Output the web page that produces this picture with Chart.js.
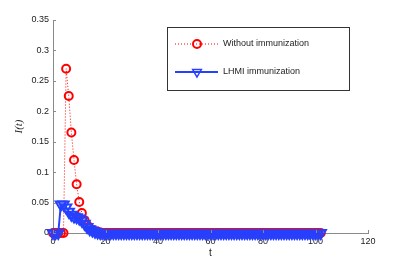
<!DOCTYPE html>
<html>
<head>
<meta charset="utf-8">
<script src="https://cdn.jsdelivr.net/npm/chart.js@4/dist/chart.umd.min.js"></script>
<style>
  html, body { margin: 0; padding: 0; background: #fff; }
  canvas { display: block; }
</style>
</head>
<body>
<canvas id="chart" width="407" height="263"></canvas>
<script>
// time steps
const tValues = [
  0, 1, 2, 3, 4, 5, 6, 7, 8, 9, 10, 11, 12, 13, 14, 15, 16, 17, 18, 19,
  20, 21, 22, 23, 24, 25, 26, 27, 28, 29, 30, 31, 32, 33, 34, 35, 36, 37, 38, 39,
  40, 41, 42, 43, 44, 45, 46, 47, 48, 49, 50, 51, 52, 53, 54, 55, 56, 57, 58, 59,
  60, 61, 62, 63, 64, 65, 66, 67, 68, 69, 70, 71, 72, 73, 74, 75, 76, 77, 78, 79,
  80, 81, 82, 83, 84, 85, 86, 87, 88, 89, 90, 91, 92, 93, 94, 95, 96, 97, 98, 99,
  100, 101, 102
];

const withoutImmunization = [
  0, 0, 0, 0, 0, 0.27, 0.225, 0.165, 0.12, 0.08, 0.051, 0.033, 0.021, 0.013, 0.008, 0.005, 0.003, 0.002, 0.001, 0,
  0, 0, 0, 0, 0, 0, 0, 0, 0, 0, 0, 0, 0, 0, 0, 0, 0, 0, 0, 0,
  0, 0, 0, 0, 0, 0, 0, 0, 0, 0, 0, 0, 0, 0, 0, 0, 0, 0, 0, 0,
  0, 0, 0, 0, 0, 0, 0, 0, 0, 0, 0, 0, 0, 0, 0, 0, 0, 0, 0, 0,
  0, 0, 0, 0, 0, 0, 0, 0, 0, 0, 0, 0, 0, 0, 0, 0, 0, 0, 0, 0,
  0, 0, 0
];

const lhmiImmunization = [
  0, 0, 0, 0.047, 0.047, 0.042, 0.035, 0.03, 0.027, 0.026, 0.024, 0.02, 0.015, 0.01, 0.006, 0.004, 0.002, 0.001, 0, 0,
  0, 0, 0, 0, 0, 0, 0, 0, 0, 0, 0, 0, 0, 0, 0, 0, 0, 0, 0, 0,
  0, 0, 0, 0, 0, 0, 0, 0, 0, 0, 0, 0, 0, 0, 0, 0, 0, 0, 0, 0,
  0, 0, 0, 0, 0, 0, 0, 0, 0, 0, 0, 0, 0, 0, 0, 0, 0, 0, 0, 0,
  0, 0, 0, 0, 0, 0, 0, 0, 0, 0, 0, 0, 0, 0, 0, 0, 0, 0, 0, 0,
  0, 0, 0
];

const xTickValues = [0, 20, 40, 60, 80, 100, 120];
const yTickValues = [0, 0.05, 0.1, 0.15, 0.2, 0.25, 0.3, 0.35];
const legendLabels = ["Without immunization", "LHMI immunization"];

const RED = "#ff0000";
const BLUE = "#2540ff";
const AXIS = "#8a8a8a";
const FONT = "'Liberation Sans', Arial, sans-serif";

const toPoints = (ys) => tValues.map((t, i) => ({ x: t, y: ys[i] }));

const redStyle = {
  borderColor: RED,
  borderWidth: 1,
  borderDash: [1, 2],
  pointStyle: "circle",
  pointRadius: 4,
  pointBorderWidth: 2,
  pointBorderColor: RED,
  pointBackgroundColor: "rgba(0,0,0,0)",
};

const blueStyle = {
  borderColor: BLUE,
  borderWidth: 2,
  pointStyle: "triangle",
  pointRotation: 180,
  pointRadius: 6,
  pointBorderWidth: 2,
  pointBorderColor: BLUE,
  pointBackgroundColor: "rgba(0,0,0,0)",
};

// MATLAB style inward ticks
const innerTicks = {
  id: "innerTicks",
  afterDraw(chart) {
    const { ctx, chartArea, scales } = chart;
    ctx.save();
    ctx.strokeStyle = AXIS;
    ctx.lineWidth = 1;
    ctx.beginPath();
    yTickValues.forEach((v) => {
      const y = Math.round(scales.y.getPixelForValue(v)) + 0.5;
      ctx.moveTo(chartArea.left, y);
      ctx.lineTo(chartArea.left + 3, y);
    });
    xTickValues.forEach((v) => {
      const x = Math.round(scales.x.getPixelForValue(v)) + 0.5;
      ctx.moveTo(x, chartArea.bottom);
      ctx.lineTo(x, chartArea.bottom - 3);
    });
    ctx.stroke();
    ctx.restore();
  },
};

// boxed legend in the upper right
const boxLegend = {
  id: "boxLegend",
  afterDraw(chart) {
    const ctx = chart.ctx;
    const bx = 167, by = 27, bw = 182, bh = 63;
    ctx.save();
    ctx.fillStyle = "#fff";
    ctx.fillRect(bx, by, bw, bh);
    ctx.strokeStyle = "#333";
    ctx.lineWidth = 1;
    ctx.strokeRect(bx + 0.5, by + 0.5, bw, bh);

    const rows = [
      { y: 44, style: redStyle, label: legendLabels[0] },
      { y: 72, style: blueStyle, label: legendLabels[1] },
    ];
    rows.forEach((r) => {
      ctx.save();
      ctx.strokeStyle = r.style.borderColor;
      ctx.lineWidth = r.style.borderWidth;
      ctx.setLineDash(r.style.borderDash || []);
      ctx.beginPath();
      ctx.moveTo(175, r.y);
      ctx.lineTo(218, r.y);
      ctx.stroke();
      ctx.restore();

      ctx.save();
      ctx.strokeStyle = r.style.pointBorderColor;
      ctx.fillStyle = r.style.pointBackgroundColor;
      ctx.lineWidth = r.style.pointStyle === "triangle" ? 1.5 : r.style.pointBorderWidth;
      Chart.helpers.drawPoint(ctx, {
        pointStyle: r.style.pointStyle,
        rotation: r.style.pointRotation || 0,
        radius: r.style.pointStyle === "triangle" ? 5 : r.style.pointRadius,
        borderWidth: r.style.pointBorderWidth,
      }, 197, r.y);
      ctx.restore();

      ctx.fillStyle = "#222";
      ctx.font = "9px " + FONT;
      ctx.textBaseline = "middle";
      ctx.fillText(r.label, 223, r.y);
    });
    ctx.restore();
  },
};

const ctx = document.getElementById("chart").getContext("2d");
new Chart(ctx, {
  type: "line",
  data: {
    datasets: [
      Object.assign({ label: legendLabels[1], data: toPoints(lhmiImmunization), clip: false }, blueStyle),
      Object.assign({ label: legendLabels[0], data: toPoints(withoutImmunization), clip: false }, redStyle),
    ],
  },
  options: {
    responsive: false,
    animation: false,
    devicePixelRatio: 1,
    layout: { padding: { top: 20, right: 39, left: 13, bottom: 0 } },
    plugins: {
      legend: { display: false },
      tooltip: { enabled: false },
    },
    scales: {
      x: {
        type: "linear",
        min: 0,
        max: 120,
        afterBuildTicks: (scale) => { scale.ticks = xTickValues.map((v) => ({ value: v })); },
        afterFit: (scale) => { scale.height = 30; },
        grid: { display: false, drawTicks: false },
        border: { display: true, color: AXIS, width: 1 },
        ticks: { color: "#222", font: { size: 9, family: FONT }, padding: 3, maxRotation: 0 },
        title: {
          display: true,
          text: "t",
          color: "#222",
          font: { size: 10, family: FONT },
          padding: { top: 0, bottom: 4 },
        },
      },
      y: {
        type: "linear",
        min: 0,
        max: 0.35,
        afterBuildTicks: (scale) => { scale.ticks = yTickValues.map((v) => ({ value: v })); },
        afterFit: (scale) => { scale.width = 40; },
        grid: { display: false, drawTicks: false },
        border: { display: true, color: AXIS, width: 1 },
        ticks: {
          color: "#222",
          font: { size: 9, family: FONT },
          padding: 4,
          callback: (v) => String(+v.toFixed(2)),
        },
        title: {
          display: true,
          text: "I(t)",
          color: "#222",
          font: { size: 11, family: "'Liberation Serif', serif", style: "italic" },
          padding: { top: 0, bottom: 0 },
        },
      },
    },
  },
  plugins: [innerTicks, boxLegend],
});
</script>
</body>
</html>
